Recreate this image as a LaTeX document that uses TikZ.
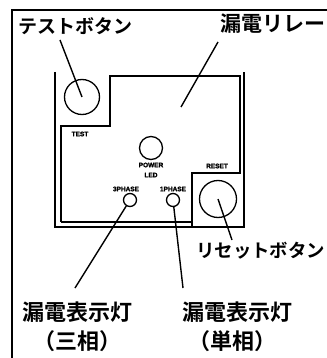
\documentclass[tikz,border=0pt]{standalone}
\usepackage{fontspec}
\setmainfont{Liberation Sans}
\newfontfamily\tinyfont{Liberation Sans Bold}[FakeBold=2]
\newfontfamily\jp{Noto Sans CJK JP Bold}
\begin{document}
\begin{tikzpicture}[x=1pt,y=-1pt,
  frame/.style={line width=1.4pt},
  lead/.style={line width=1.4pt},
  btn/.style={circle,draw,line width=1.3pt,inner sep=0pt},
  tiny/.style={font=\tinyfont\fontsize{6.5}{6.5}\selectfont,inner sep=0pt},
  kana/.style={font=\jp\fontsize{19}{19}\selectfont,inner sep=0pt},
  kanji/.style={font=\jp\fontsize{22}{22}\selectfont,inner sep=0pt}]
\useasboundingbox (0,0) rectangle (326,358);
% outer frame
\draw[frame] (12,358) -- (12,10) -- (330,10);
% panel outer
\draw[frame] (55,72) -- (55,227) -- (244,227) -- (244,72);
% panel inner stepped
\draw[frame] (61,222) -- (61,126) -- (110,126) -- (110,76) -- (240,76) -- (240,173) -- (192,173) -- (192,227);
\draw[frame] (61,222) -- (192,222);
% buttons and LEDs
\node[btn,minimum size=35pt] (testbtn) at (82,97) {};
\node[btn,minimum size=23pt] (pled) at (151,148) {};
\node[btn,minimum size=13pt] (led3) at (130,200) {};
\node[btn,minimum size=13pt] (led1) at (173,200) {};
\node[btn,minimum size=37pt] (resetbtn) at (218,199) {};
% small labels
\node[tiny] (ltest) at (80,134) {TEST};
\node[tiny] (lpower) at (151,165) {POWER};
\node[tiny] (lled) at (151,175) {LED};
\node[tiny] (lreset) at (217,166) {RESET};
\node[tiny] (l3) at (126,189) {3PHASE};
\node[tiny] (l1) at (173,189) {1PHASE};
% japanese labels
\node[kana,anchor=west] (jtest) at (18,26) {テストボタン};
\node[font=\jp\fontsize{21}{21}\selectfont,inner sep=0pt,anchor=west] (jrelay) at (220,24) {漏電リレー};
\node[font=\jp\fontsize{18.4}{18.4}\selectfont,inner sep=0pt,anchor=west] (jreset) at (196,251) {リセットボタン};
\node[kanji] (j3a) at (77,312) {漏電表示灯};
\node[kanji] (j3b) at (77,341) {（三相）};
\node[kanji] (j1a) at (237,312) {漏電表示灯};
\node[kanji] (j1b) at (232,341) {（単相）};
% leaders
\coordinate (ctest) at (60,40);
\coordinate (crelay) at (218,42);
\coordinate (crelayend) at (181,107);
\coordinate (creset) at (232,240);
\coordinate (c3) at (75,288);
\coordinate (c1) at (183,288);
\draw[lead] (ctest) -- (testbtn.center);
\draw[lead] (crelay) -- (crelayend);
\draw[lead] (creset) -- (resetbtn.center);
\draw[lead] (c3) -- (led3);
\draw[lead] (c1) -- (led1);
\end{tikzpicture}
\end{document}
